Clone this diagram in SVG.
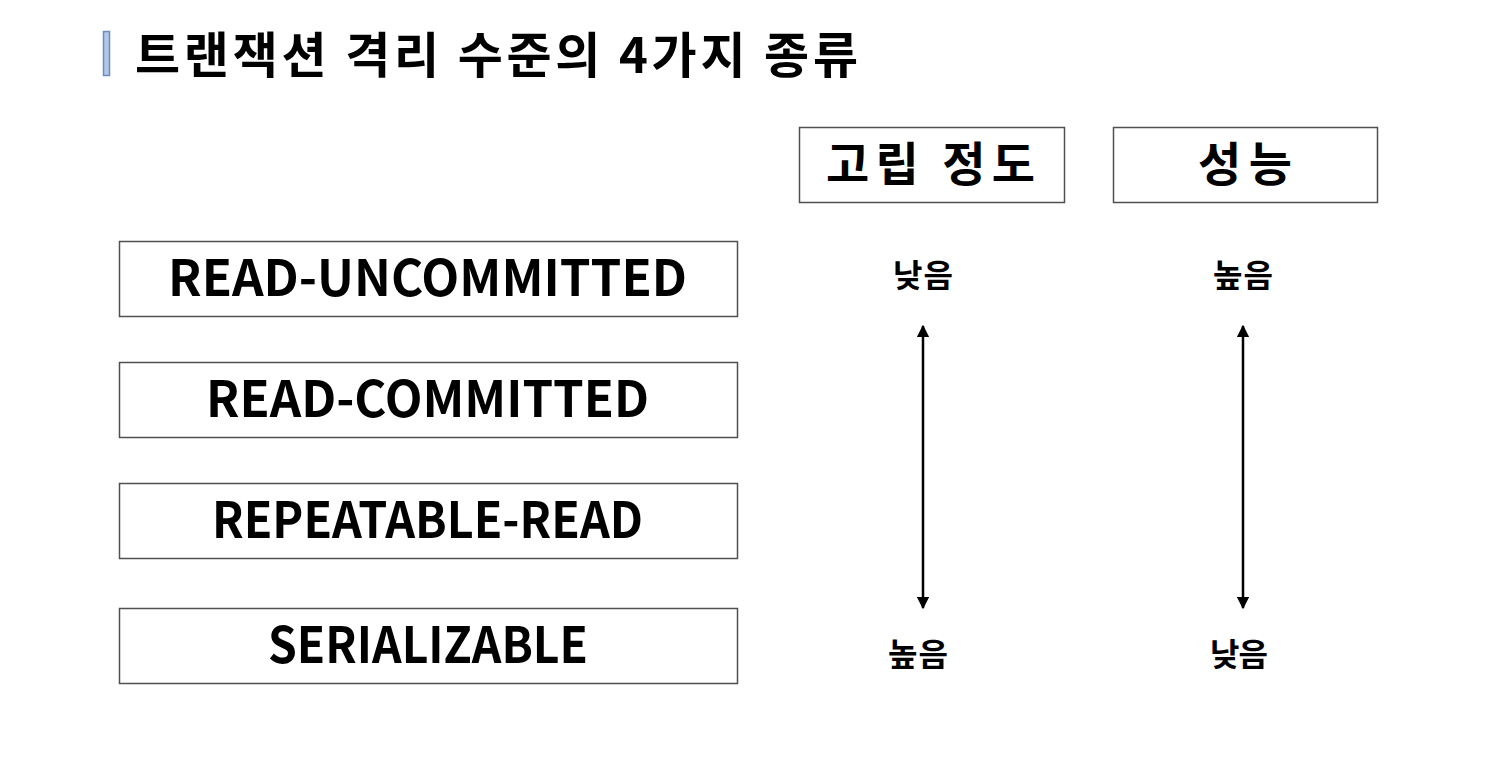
<svg xmlns="http://www.w3.org/2000/svg" width="1506" height="770" viewBox="0 0 1506 770">
<defs>
<style>
.box{fill:#fff;stroke:#505050;stroke-width:1.5}
.t{font-family:"Noto Sans CJK KR","Noto Sans",sans-serif;font-weight:bold;fill:#000;text-anchor:middle}
.lbl{font-size:50px}
.hdr{font-size:47px}
.sm{font-size:32px}
.ln{stroke:#000;stroke-width:2.5;fill:none}
</style>
<marker id="ah" viewBox="0 0 10 10" refX="9" refY="5" markerWidth="5" markerHeight="5" orient="auto-start-reverse">
<path d="M0,0 L10,5 L0,10 z" fill="#000"/>
</marker>
</defs>
<rect width="1506" height="770" fill="#fff"/>
<g id="title">
<rect x="103.5" y="31.5" width="6" height="44" fill="#b4c7e7" stroke="#6a8cc0" stroke-width="1.5"/>
<text x="135" y="73" font-family="Noto Sans CJK KR, sans-serif" font-weight="bold" font-size="49" fill="#000" textLength="723" lengthAdjust="spacing">트랜잭션 격리 수준의 4가지 종류</text>
</g>
<g id="hdr-isolation">
<rect class="box" x="799.5" y="127.5" width="265" height="75"/>
<text class="t hdr" x="930.5" y="181" textLength="209" lengthAdjust="spacing">고립 정도</text>
</g>
<g id="hdr-performance">
<rect class="box" x="1113.5" y="127.5" width="264" height="75"/>
<text class="t hdr" x="1245" y="181" textLength="94" lengthAdjust="spacing">성능</text>
</g>
<g id="read-uncommitted">
<rect class="box" x="119.5" y="241.5" width="618" height="75"/>
<text class="t lbl" x="427.5" y="296" textLength="519" lengthAdjust="spacingAndGlyphs">READ-UNCOMMITTED</text>
</g>
<g id="read-committed">
<rect class="box" x="119.5" y="362.5" width="618" height="75"/>
<text class="t lbl" x="427.5" y="417" textLength="443" lengthAdjust="spacingAndGlyphs">READ-COMMITTED</text>
</g>
<g id="repeatable-read">
<rect class="box" x="119.5" y="483.5" width="618" height="75"/>
<text class="t lbl" x="427.5" y="538" textLength="431" lengthAdjust="spacingAndGlyphs">REPEATABLE-READ</text>
</g>
<g id="serializable">
<rect class="box" x="119.5" y="608.5" width="618" height="75"/>
<text class="t lbl" x="428" y="663" textLength="320" lengthAdjust="spacingAndGlyphs">SERIALIZABLE</text>
</g>
<g id="labels">
<text class="t sm" x="923" y="287" textLength="60" lengthAdjust="spacing">낮음</text>
<text class="t sm" x="1243" y="287" textLength="60" lengthAdjust="spacing">높음</text>
<text class="t sm" x="918" y="666" textLength="60" lengthAdjust="spacing">높음</text>
<text class="t sm" x="1239" y="666" textLength="58" lengthAdjust="spacing">낮음</text>
</g>
<g id="connectors">
<line class="ln" x1="923" y1="326" x2="923" y2="608" marker-start="url(#ah)" marker-end="url(#ah)"/>
<line class="ln" x1="1243" y1="326" x2="1243" y2="608" marker-start="url(#ah)" marker-end="url(#ah)"/>
</g>
</svg>
